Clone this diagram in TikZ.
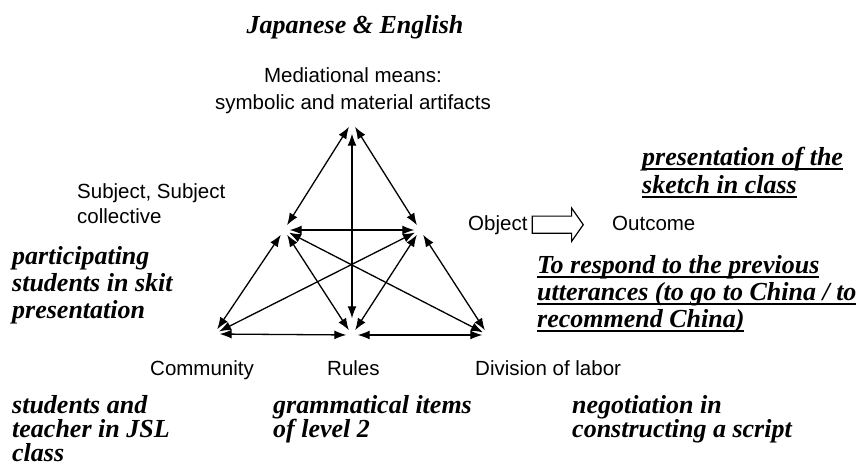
\documentclass[tikz,border=0pt]{standalone}
\usepackage{fontspec}
\setmainfont{Liberation Serif}
\newfontfamily\arialfont{Liberation Sans}
\usetikzlibrary{arrows.meta,positioning,shapes.arrows}
\newcommand{\undl}[1]{\setbox0\hbox{#1}\rlap{\usebox0}\rule[-4.5pt]{\wd0}{2pt}}

\begin{document}
\begin{tikzpicture}[x=1pt,y=-1pt,
  vtx/.style={circle,inner sep=0pt,minimum size=11pt},
  lbl/.style={font=\arialfont\fontsize{20.5}{27}\selectfont,inner sep=0pt},
  note/.style={font=\fontsize{26}{24}\selectfont\bfseries\itshape,align=left,inner sep=0pt},
  link/.style={{Latex[length=12pt,width=9pt]}-{Latex[length=12pt,width=9pt]},line width=1.3pt}]

\useasboundingbox (0,0) rectangle (865,468);
\node[note,anchor=base] (J) at (355,34) {Japanese \& English};
\node[lbl,align=center,anchor=north] (Mt) at (353,67) {Mediational means:\\symbolic and material artifacts};
\node[lbl,align=left,anchor=north west,font=\arialfont\fontsize{20.5}{25}\selectfont] (St) at (77,183) {Subject, Subject\\collective};
\node[lbl,anchor=base west] (Ot) at (468,230) {Object};
\node[single arrow,draw,line width=1.2pt,inner sep=8pt,minimum height=51pt,single arrow head extend=8pt,single arrow tip angle=110,right=4pt of Ot] (arr) {};
\node[lbl,anchor=base west] (Oc) at (612,230) {Outcome};
\node[lbl,anchor=base west] (Ct) at (150,375) {Community};
\node[lbl,anchor=base west] (Rt) at (327,375) {Rules};
\node[lbl,anchor=base west] (Dt) at (475,375) {Division of labor};

\node[note,anchor=north west,font=\fontsize{26}{27}\selectfont\bfseries\itshape] (N1) at (12,246) {participating\\students in skit\\presentation};
\node[note,anchor=north west,font=\fontsize{26}{28}\selectfont\bfseries\itshape] (N2) at (642,147) {\undl{presentation of the}\\\undl{sketch in class}};
\node[note,anchor=north west,font=\fontsize{26}{27}\selectfont\bfseries\itshape] (N3) at (537,255) {\undl{To respond to the previous}\\\undl{utterances (to go to China / to}\\\undl{recommend China)}};
\node[note,anchor=north west] (N4) at (12,395) {students and\\teacher in JSL\\class};
\node[note,anchor=north west] (N5) at (273,395) {grammatical items\\of level 2};
\node[note,anchor=north west] (N6) at (572,395) {negotiation in\\constructing a script};

\node[vtx] (M) at (352,122) {};
\node[vtx] (S) at (284,230) {} edge[link] (M);
\node[vtx] (O) at (420,230) {} edge[link] (M) edge[link] (S);
\node[vtx] (C) at (214,334) {} edge[link] (S) edge[link] (O);
\node[vtx] (R) at (352,335) {} edge[link,shorten <=11pt,shorten >=6pt] (M) edge[link] (S) edge[link] (O) edge[link] (C);
\node[vtx] (D) at (488,335) {} edge[link] (S) edge[link] (O) edge[link] (R);
\end{tikzpicture}
\end{document}
